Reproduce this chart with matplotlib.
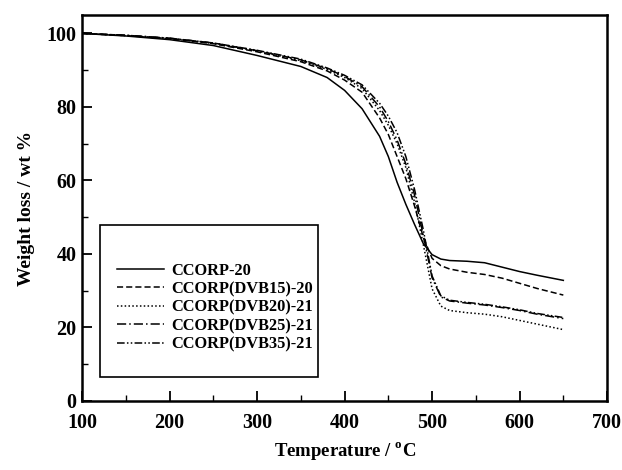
import matplotlib.pyplot as plt
from matplotlib.patches import Rectangle
from matplotlib.ticker import MultipleLocator

plt.rcParams['font.family'] = 'Liberation Serif'
plt.rcParams['font.weight'] = 'bold'

# temperature grid (deg C)
temp = [100, 150, 200, 250, 300, 350, 380, 400, 420, 440, 450, 460, 470,
        480, 490, 500, 510, 520, 540, 560, 580, 600, 620, 650]

ccorp20 = [100, 99.3, 98.3, 96.7, 94.0, 91.0, 88.0, 84.5, 79.5, 72.0, 66.5,
           59.5, 53.5, 48.0, 42.8, 39.8, 38.6, 38.2, 38.0, 37.6, 36.4, 35.2,
           34.2, 32.8]
dvb15 = [100, 99.4, 98.6, 97.2, 95.0, 92.3, 89.8, 87.3, 84.0, 77.0, 72.5,
         66.5, 60.5, 53.0, 44.5, 38.8, 36.8, 35.9, 35.0, 34.4, 33.4, 32.0,
         30.6, 28.8]
dvb20 = [100, 99.4, 98.6, 97.3, 95.2, 92.6, 90.2, 88.0, 85.0, 79.0, 75.0,
         70.0, 63.5, 54.0, 42.5, 30.5, 25.8, 24.6, 24.0, 23.6, 22.9, 21.9,
         20.9, 19.4]
dvb25 = [100, 99.5, 98.7, 97.4, 95.3, 92.8, 90.4, 88.3, 85.5, 80.0, 76.0,
         71.0, 64.5, 56.0, 45.0, 33.5, 28.3, 27.2, 26.6, 26.1, 25.4, 24.6,
         23.6, 22.4]
dvb35 = [100, 99.5, 98.7, 97.4, 95.4, 93.0, 90.6, 88.6, 86.0, 81.0, 77.5,
         73.0, 66.5, 57.5, 46.5, 34.0, 28.6, 27.4, 26.8, 26.3, 25.6, 24.8,
         23.8, 22.7]

labels = ['CCORP-20', 'CCORP(DVB15)-20', 'CCORP(DVB20)-21',
          'CCORP(DVB25)-21', 'CCORP(DVB35)-21']
series = [ccorp20, dvb15, dvb20, dvb25, dvb35]
styles = ['-', (0, (4, 2)), (0, (1, 1.5)), (0, (6, 2, 1, 2)), (0, (5, 1.5, 1, 1.5, 1, 1.5))]

fig = plt.figure(figsize=(6.22, 4.70), dpi=100)
ax = fig.add_axes([0.132, 0.147, 0.844, 0.821])

for y, lab, ls in zip(series, labels, styles):
    ax.plot(temp, y, color='black', linestyle=ls, linewidth=1.1, label=lab)

ax.set_xlim(100, 700)
ax.set_ylim(0, 105)
ax.xaxis.set_major_locator(MultipleLocator(100))
ax.xaxis.set_minor_locator(MultipleLocator(50))
ax.yaxis.set_major_locator(MultipleLocator(20))
ax.yaxis.set_minor_locator(MultipleLocator(10))
ax.tick_params(which='both', direction='in', labelsize=14.5)
ax.tick_params(which='major', length=7, width=1.3)
ax.tick_params(which='minor', length=4, width=1.0)
ax.tick_params(axis='x', pad=9)
ax.tick_params(axis='y', pad=4)
for s in ax.spines.values():
    s.set_linewidth(1.8)

ax.set_xlabel('Temperature / $^\\mathregular{o}$C', fontsize=13.5, fontweight='bold', labelpad=5)
ax.set_ylabel('Weight loss / wt %', fontsize=14, fontweight='bold', labelpad=8)

# legend box is taller than its entries in the original
ax.add_patch(Rectangle((0.034, 0.062), 0.416, 0.393, transform=ax.transAxes,
                       fill=False, edgecolor='black', linewidth=1.2, zorder=5))
leg = ax.legend(loc='center', bbox_to_anchor=(0.253, 0.242), fontsize=11.8,
                frameon=False, handlelength=2.9, borderpad=0.3,
                labelspacing=0.15, handletextpad=0.45)

fig.savefig('out.png', dpi=100)
